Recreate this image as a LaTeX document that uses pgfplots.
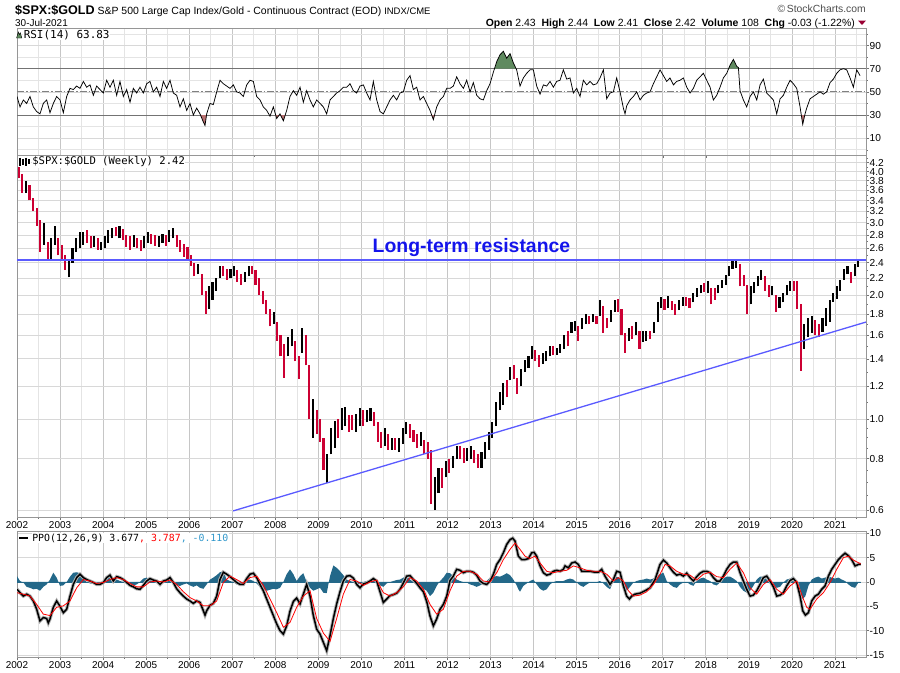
\documentclass[border=0pt]{standalone}
\usepackage{pgfplots}
\pgfplotsset{compat=1.18}
\usepackage{pgfplotstable}
\usepackage{fontspec}
\setmainfont{Liberation Sans}
\newfontfamily\monof{DejaVu Sans Mono}

\definecolor{barred}{RGB}{204,0,51}
\definecolor{gridmaj}{RGB}{198,198,198}
\definecolor{gridmin}{RGB}{228,228,228}
\definecolor{gridh}{RGB}{216,216,216}
\definecolor{axisgray}{RGB}{150,150,150}
\definecolor{rsigreen}{RGB}{95,138,95}
\definecolor{rsired}{RGB}{184,112,112}
\definecolor{histcol}{RGB}{35,104,137}
\definecolor{resblue}{RGB}{90,90,255}
\definecolor{txtblue}{RGB}{20,20,235}
\definecolor{lblblue}{RGB}{51,153,204}
\definecolor{chgred}{RGB}{153,0,51}

% ---------------- weekly-price bars, sampled monthly: x low high colour(1=down) ----------
\pgfplotstableread{
x lo hi c
2002.04 3.85 4.12 1
2002.12 3.55 3.95 1
2002.21 3.55 3.80 0
2002.29 3.40 3.70 1
2002.38 3.20 3.45 1
2002.46 2.95 3.25 1
2002.54 2.55 3.05 1
2002.62 2.65 3.00 0
2002.71 2.45 2.70 1
2002.79 2.45 2.75 0
2002.88 2.65 2.95 0
2002.96 2.50 2.75 1
2003.04 2.42 2.65 1
2003.12 2.30 2.50 1
2003.21 2.21 2.45 0
2003.29 2.40 2.60 0
2003.38 2.55 2.75 0
2003.46 2.60 2.85 0
2003.54 2.65 2.85 0
2003.62 2.68 2.88 1
2003.71 2.60 2.78 1
2003.79 2.62 2.78 0
2003.88 2.58 2.75 1
2003.96 2.58 2.70 0
2004.04 2.60 2.78 0
2004.12 2.68 2.88 0
2004.21 2.75 2.92 0
2004.29 2.78 2.93 1
2004.38 2.75 2.95 0
2004.46 2.72 2.90 1
2004.54 2.62 2.80 1
2004.62 2.58 2.78 1
2004.71 2.62 2.80 0
2004.79 2.60 2.76 1
2004.88 2.56 2.72 1
2004.96 2.60 2.78 0
2005.04 2.68 2.85 0
2005.12 2.66 2.82 1
2005.21 2.64 2.80 1
2005.29 2.62 2.78 0
2005.38 2.68 2.82 0
2005.46 2.64 2.80 1
2005.54 2.70 2.88 0
2005.62 2.75 2.92 0
2005.71 2.62 2.80 1
2005.79 2.55 2.72 1
2005.88 2.48 2.66 1
2005.96 2.44 2.62 1
2006.04 2.36 2.50 1
2006.12 2.22 2.40 1
2006.21 2.25 2.38 0
2006.29 2.00 2.25 1
2006.38 1.80 2.05 1
2006.46 1.85 2.10 0
2006.54 1.95 2.15 0
2006.62 2.05 2.20 0
2006.71 2.20 2.35 0
2006.79 2.22 2.35 1
2006.88 2.18 2.32 1
2006.96 2.20 2.32 0
2007.04 2.22 2.36 0
2007.12 2.15 2.30 1
2007.21 2.12 2.25 1
2007.29 2.15 2.28 0
2007.38 2.22 2.35 0
2007.46 2.25 2.36 1
2007.54 2.12 2.30 1
2007.62 2.00 2.20 1
2007.71 1.90 2.05 1
2007.79 1.80 1.95 1
2007.88 1.68 1.85 1
2007.96 1.70 1.82 0
2008.04 1.55 1.72 1
2008.12 1.42 1.60 1
2008.21 1.26 1.52 1
2008.29 1.42 1.58 0
2008.38 1.50 1.65 0
2008.46 1.38 1.55 1
2008.54 1.25 1.42 1
2008.62 1.45 1.66 0
2008.71 1.35 1.60 1
2008.79 1.00 1.35 1
2008.88 0.90 1.12 0
2008.96 0.92 1.05 1
2009.04 0.88 1.00 1
2009.12 0.75 0.90 1
2009.21 0.70 0.82 0
2009.29 0.82 0.95 0
2009.38 0.85 0.99 0
2009.46 0.90 1.00 1
2009.54 0.94 1.06 0
2009.62 0.96 1.07 0
2009.71 0.93 1.02 1
2009.79 0.94 1.02 1
2009.88 0.93 1.03 0
2009.96 0.96 1.06 0
2010.04 0.96 1.05 1
2010.12 0.98 1.05 0
2010.21 0.99 1.06 0
2010.29 0.96 1.04 1
2010.38 0.88 0.98 1
2010.46 0.85 0.93 1
2010.54 0.86 0.95 0
2010.62 0.84 0.92 1
2010.71 0.84 0.90 0
2010.79 0.84 0.90 1
2010.88 0.83 0.90 0
2010.96 0.87 0.95 0
2011.04 0.92 0.98 0
2011.12 0.90 0.97 1
2011.21 0.88 0.94 1
2011.29 0.85 0.92 1
2011.38 0.86 0.93 0
2011.46 0.82 0.89 1
2011.54 0.80 0.88 1
2011.62 0.62 0.84 1
2011.71 0.60 0.72 0
2011.79 0.66 0.76 0
2011.88 0.68 0.76 1
2011.96 0.72 0.79 0
2012.04 0.74 0.80 1
2012.12 0.76 0.81 0
2012.21 0.80 0.86 0
2012.29 0.80 0.86 1
2012.38 0.78 0.85 1
2012.46 0.79 0.85 0
2012.54 0.80 0.86 0
2012.62 0.78 0.84 1
2012.71 0.76 0.82 1
2012.79 0.76 0.83 0
2012.88 0.80 0.88 0
2012.96 0.84 0.93 0
2013.04 0.90 0.98 0
2013.12 0.96 1.10 0
2013.21 1.05 1.16 0
2013.29 1.08 1.22 0
2013.38 1.13 1.24 1
2013.46 1.24 1.34 0
2013.54 1.25 1.35 1
2013.62 1.15 1.26 1
2013.71 1.20 1.32 0
2013.79 1.30 1.39 0
2013.88 1.33 1.42 0
2013.96 1.40 1.50 0
2014.04 1.38 1.47 1
2014.12 1.34 1.43 1
2014.21 1.36 1.45 0
2014.29 1.38 1.46 0
2014.38 1.42 1.50 0
2014.46 1.43 1.50 1
2014.54 1.43 1.49 0
2014.62 1.45 1.52 0
2014.71 1.48 1.60 0
2014.79 1.50 1.64 1
2014.88 1.62 1.72 0
2014.96 1.64 1.73 0
2015.04 1.55 1.68 1
2015.12 1.65 1.76 0
2015.21 1.70 1.80 0
2015.29 1.70 1.78 1
2015.38 1.72 1.80 0
2015.46 1.70 1.78 1
2015.54 1.78 1.95 0
2015.62 1.62 1.88 1
2015.71 1.66 1.76 1
2015.79 1.72 1.84 0
2015.88 1.82 1.95 0
2015.96 1.82 1.96 1
2016.04 1.60 1.85 1
2016.12 1.45 1.62 1
2016.21 1.55 1.66 0
2016.29 1.56 1.68 1
2016.38 1.60 1.72 0
2016.46 1.48 1.64 1
2016.54 1.54 1.64 0
2016.62 1.55 1.64 0
2016.71 1.56 1.64 1
2016.79 1.62 1.72 0
2016.88 1.72 1.92 0
2016.96 1.86 1.98 0
2017.04 1.84 1.96 1
2017.12 1.86 1.99 0
2017.21 1.84 1.94 1
2017.29 1.79 1.90 1
2017.38 1.84 1.95 0
2017.46 1.88 1.98 0
2017.54 1.88 1.98 1
2017.62 1.86 1.97 1
2017.71 1.92 2.02 0
2017.79 1.98 2.08 0
2017.88 2.02 2.12 0
2017.96 2.04 2.14 1
2018.04 2.02 2.16 0
2018.12 1.90 2.08 1
2018.21 1.95 2.08 1
2018.29 2.02 2.12 0
2018.38 2.08 2.18 0
2018.46 2.12 2.24 0
2018.54 2.22 2.36 0
2018.62 2.32 2.44 0
2018.71 2.33 2.45 0
2018.79 2.10 2.38 1
2018.88 2.10 2.24 1
2018.96 1.80 2.12 1
2019.04 1.90 2.10 0
2019.12 2.02 2.15 0
2019.21 2.10 2.22 0
2019.29 2.18 2.30 0
2019.38 2.05 2.22 1
2019.46 1.98 2.12 1
2019.54 2.00 2.10 0
2019.62 1.82 2.00 1
2019.71 1.86 1.98 0
2019.79 1.92 2.02 0
2019.88 2.00 2.12 0
2019.96 2.05 2.16 0
2020.04 2.05 2.16 1
2020.12 1.85 2.17 1
2020.21 1.31 1.90 1
2020.29 1.48 1.70 0
2020.38 1.58 1.76 0
2020.46 1.62 1.78 0
2020.54 1.60 1.74 1
2020.62 1.58 1.70 1
2020.71 1.63 1.76 0
2020.79 1.68 1.86 0
2020.88 1.72 1.95 0
2020.96 1.93 2.02 0
2021.04 1.96 2.10 0
2021.12 2.05 2.18 0
2021.21 2.18 2.32 0
2021.29 2.25 2.36 0
2021.38 2.14 2.28 1
2021.46 2.22 2.38 0
2021.54 2.34 2.45 0
}\price

% ---------------- RSI(14) ----------------
\pgfplotstableread{
x r
2002.000 46
2002.070 37
2002.147 43
2002.224 40
2002.302 46
2002.379 37
2002.457 33
2002.534 31
2002.611 40
2002.689 43
2002.766 32
2002.844 40
2002.921 46
2002.999 43
2003.076 32
2003.154 46
2003.231 53
2003.308 52
2003.386 55
2003.463 53
2003.541 59
2003.618 54
2003.696 56
2003.773 47
2003.850 55
2003.928 52
2004.005 49
2004.083 60
2004.160 54
2004.238 60
2004.315 47
2004.392 59
2004.470 46
2004.547 52
2004.625 41
2004.702 53
2004.780 49
2004.857 54
2004.934 49
2005.012 57
2005.089 59
2005.167 50
2005.244 54
2005.322 46
2005.399 59
2005.476 53
2005.554 60
2005.631 49
2005.709 47
2005.786 37
2005.864 44
2005.941 34
2006.018 40
2006.096 30
2006.173 36
2006.251 31
2006.328 24
2006.367 21
2006.406 31
2006.483 40
2006.560 39
2006.638 50
2006.715 60
2006.793 57
2006.870 55
2006.948 53
2007.025 56
2007.102 50
2007.180 49
2007.257 46
2007.335 56
2007.412 60
2007.490 59
2007.567 46
2007.644 43
2007.722 37
2007.799 34
2007.877 29
2007.954 37
2008.032 27
2008.109 31
2008.187 25
2008.264 34
2008.341 46
2008.419 51
2008.496 47
2008.574 54
2008.651 41
2008.728 51
2008.806 43
2008.883 37
2008.961 43
2009.038 40
2009.116 37
2009.193 31
2009.271 43
2009.348 46
2009.425 49
2009.503 51
2009.580 54
2009.658 54
2009.735 57
2009.813 51
2009.890 49
2009.967 55
2010.045 56
2010.122 49
2010.200 43
2010.277 59
2010.355 43
2010.432 33
2010.509 31
2010.587 37
2010.664 43
2010.742 47
2010.819 43
2010.897 49
2010.974 50
2011.051 60
2011.129 64
2011.206 52
2011.284 54
2011.361 43
2011.439 46
2011.516 40
2011.593 34
2011.671 26
2011.748 37
2011.826 43
2011.903 46
2011.981 53
2012.058 53
2012.135 55
2012.213 63
2012.290 57
2012.368 53
2012.445 60
2012.523 50
2012.600 58
2012.677 47
2012.755 44
2012.832 43
2012.910 51
2012.987 57
2013.065 67
2013.142 76
2013.219 82
2013.297 85
2013.374 79
2013.452 83
2013.529 75
2013.606 69
2013.684 55
2013.761 62
2013.839 66
2013.916 69
2013.994 69
2014.071 55
2014.149 48
2014.226 56
2014.303 55
2014.381 59
2014.458 54
2014.536 59
2014.613 60
2014.690 69
2014.768 61
2014.845 62
2014.923 49
2015.000 53
2015.078 46
2015.155 60
2015.233 56
2015.310 59
2015.387 56
2015.465 57
2015.542 62
2015.620 69
2015.697 44
2015.775 49
2015.852 50
2015.929 62
2016.007 50
2016.084 36
2016.123 31
2016.162 38
2016.239 43
2016.317 46
2016.394 50
2016.472 43
2016.549 47
2016.626 49
2016.704 50
2016.781 57
2016.859 63
2016.936 69
2017.014 64
2017.091 59
2017.168 62
2017.246 56
2017.323 59
2017.401 60
2017.478 62
2017.556 54
2017.633 49
2017.710 53
2017.788 60
2017.865 63
2017.943 66
2018.020 60
2018.098 54
2018.175 43
2018.252 47
2018.330 54
2018.407 62
2018.485 66
2018.562 73
2018.640 78
2018.717 72
2018.756 71
2018.794 51
2018.872 43
2018.949 37
2019.027 46
2019.104 50
2019.182 43
2019.259 56
2019.336 61
2019.414 49
2019.491 46
2019.569 43
2019.646 31
2019.724 44
2019.801 47
2019.878 54
2019.956 60
2020.033 57
2020.111 53
2020.188 37
2020.250 22
2020.304 31
2020.343 36
2020.420 44
2020.498 46
2020.575 48
2020.653 50
2020.730 48
2020.807 50
2020.885 58
2020.962 61
2021.040 66
2021.117 69
2021.195 70
2021.272 69
2021.350 62
2021.427 54
2021.504 69
2021.582 64
}\rsidata

% RSI parts above 70 (overbought) and below 30 (oversold), bounded by the 70 / 30 lines
\pgfplotstableread{
x r
2013.091 70
2013.142 76
2013.219 82
2013.297 85
2013.374 79
2013.452 83
2013.529 75
2013.593 70
}\rsiobA
\pgfplotstableread{
x r
2018.529 70
2018.562 73
2018.640 78
2018.717 72
2018.756 71
2018.758 70
}\rsiobB
\pgfplotstableread{
x r
2006.262 30
2006.328 24
2006.367 21
2006.402 30
}\rsiosA
\pgfplotstableread{
x r
2007.861 30
2007.877 29
2007.887 30
}\rsiosB
\pgfplotstableread{
x r
2008.009 30
2008.032 27
2008.090 30
}\rsiosC
\pgfplotstableread{
x r
2008.122 30
2008.187 25
2008.230 30
}\rsiosD
\pgfplotstableread{
x r
2011.632 30
2011.671 26
2011.699 30
}\rsiosE
\pgfplotstableread{
x r
2020.217 30
2020.250 22
2020.298 30
}\rsiosF

% ---------------- PPO line ----------------
\pgfplotstableread{
x p
2002.000 -1.5
2002.070 -2.2
2002.147 -2.9
2002.224 -2.5
2002.302 -2.9
2002.379 -3.9
2002.457 -5.6
2002.534 -8.0
2002.611 -7.3
2002.689 -7.5
2002.727 -8.4
2002.766 -7.6
2002.844 -5.2
2002.921 -3.9
2002.999 -5.0
2003.076 -6.3
2003.154 -5.6
2003.231 -2.9
2003.308 -0.5
2003.386 0.9
2003.463 1.6
2003.541 0.9
2003.618 0.5
2003.696 0.2
2003.773 -0.1
2003.850 -0.5
2003.928 -0.5
2004.005 -0.1
2004.083 0.9
2004.160 1.4
2004.238 0.2
2004.315 1.1
2004.392 0.9
2004.470 0.5
2004.547 -0.1
2004.625 -0.7
2004.702 -1.0
2004.780 -1.4
2004.857 -1.5
2004.934 -0.7
2005.012 0.2
2005.089 0.7
2005.167 0.4
2005.244 0.2
2005.322 -0.5
2005.399 0.2
2005.476 0.4
2005.554 0.9
2005.631 -0.1
2005.709 -1.4
2005.786 -2.2
2005.864 -2.9
2005.941 -3.5
2006.018 -3.9
2006.096 -4.4
2006.173 -3.9
2006.251 -4.2
2006.328 -5.9
2006.367 -6.8
2006.406 -5.9
2006.483 -4.8
2006.560 -4.4
2006.638 -2.9
2006.715 0.5
2006.793 2.0
2006.870 1.6
2006.948 1.1
2007.025 0.5
2007.102 -0.1
2007.180 -0.5
2007.257 -0.5
2007.335 0.7
2007.412 1.6
2007.490 1.8
2007.567 0.9
2007.644 -0.5
2007.722 -1.8
2007.799 -3.5
2007.877 -5.2
2007.954 -6.9
2008.032 -8.6
2008.109 -10.0
2008.187 -10.7
2008.264 -9.0
2008.341 -6.0
2008.419 -4.0
2008.496 -3.3
2008.574 -4.5
2008.651 -2.5
2008.728 -0.5
2008.806 -2.9
2008.883 -6.9
2008.961 -9.7
2009.038 -10.7
2009.116 -12.4
2009.193 -14.1
2009.271 -11.0
2009.348 -7.5
2009.425 -4.5
2009.503 -2.0
2009.580 0.2
2009.658 1.2
2009.735 1.3
2009.813 0.8
2009.890 -0.5
2009.967 -1.2
2010.045 -0.4
2010.122 -0.2
2010.200 0.2
2010.277 0.7
2010.355 0.2
2010.432 -2.0
2010.509 -4.2
2010.587 -3.5
2010.664 -2.8
2010.742 -2.6
2010.819 -2.3
2010.897 -1.5
2010.974 -0.2
2011.051 1.2
2011.129 1.3
2011.206 0.5
2011.284 -0.3
2011.361 -1.2
2011.439 -2.0
2011.516 -4.0
2011.593 -7.0
2011.671 -9.0
2011.748 -7.6
2011.826 -5.6
2011.903 -4.6
2011.981 -2.9
2012.058 0.3
2012.135 1.2
2012.213 2.6
2012.290 2.4
2012.368 1.9
2012.445 2.2
2012.523 2.2
2012.600 2.0
2012.677 1.4
2012.755 0.2
2012.832 -0.3
2012.910 -0.5
2012.987 0.2
2013.065 1.6
2013.142 3.6
2013.219 4.6
2013.297 6.0
2013.374 7.7
2013.452 8.7
2013.514 9.0
2013.568 8.4
2013.645 5.3
2013.723 4.6
2013.800 4.6
2013.878 4.8
2013.955 6.0
2014.009 6.1
2014.071 5.3
2014.149 3.3
2014.226 1.9
2014.303 1.4
2014.381 1.6
2014.458 2.2
2014.536 2.4
2014.613 2.2
2014.690 2.6
2014.729 3.3
2014.807 2.9
2014.884 3.9
2014.962 4.1
2015.039 3.6
2015.116 2.2
2015.194 2.2
2015.310 2.2
2015.426 2.0
2015.504 2.0
2015.581 2.6
2015.658 1.2
2015.775 -0.5
2015.852 0.5
2015.929 2.2
2016.007 2.0
2016.084 -0.8
2016.162 -2.9
2016.224 -3.5
2016.278 -2.9
2016.355 -2.5
2016.472 -2.3
2016.588 -1.8
2016.704 -1.2
2016.820 0.5
2016.936 3.6
2017.014 4.5
2017.091 3.9
2017.168 2.9
2017.246 2.0
2017.323 1.4
2017.401 1.6
2017.478 1.2
2017.556 1.8
2017.633 0.9
2017.710 0.2
2017.788 1.1
2017.865 1.8
2017.943 2.2
2018.020 2.2
2018.098 1.9
2018.175 0.9
2018.252 0.2
2018.330 0.2
2018.407 1.2
2018.485 2.6
2018.562 3.6
2018.640 4.1
2018.717 4.1
2018.794 1.9
2018.872 0.2
2018.949 -1.5
2019.027 -2.9
2019.104 -2.7
2019.182 -1.8
2019.259 -0.5
2019.336 0.9
2019.414 1.2
2019.491 0.2
2019.569 -1.0
2019.646 -2.9
2019.724 -2.7
2019.801 -2.2
2019.878 -0.8
2019.956 0.3
2020.033 0.7
2020.111 -0.1
2020.188 -2.9
2020.250 -5.9
2020.312 -6.8
2020.382 -6.3
2020.459 -3.9
2020.537 -2.9
2020.614 -2.5
2020.691 -1.5
2020.769 -0.8
2020.846 1.2
2020.924 2.6
2021.001 3.6
2021.079 4.6
2021.156 5.3
2021.233 5.9
2021.311 5.4
2021.388 4.6
2021.466 3.3
2021.543 3.6
2021.597 3.7
}\ppodata

% ---------------- PPO signal ----------------
\pgfplotstableread{
x s
2002.000 -2.2
2002.147 -2.5
2002.302 -2.9
2002.457 -4.6
2002.611 -6.6
2002.766 -6.9
2002.921 -5.2
2003.076 -4.9
2003.231 -3.9
2003.386 -1.2
2003.541 0.5
2003.696 0.2
2003.850 -0.3
2004.005 -0.1
2004.160 0.5
2004.315 0.9
2004.470 0.5
2004.625 -0.3
2004.780 -1.0
2004.934 -1.0
2005.089 0.0
2005.244 0.2
2005.399 0.0
2005.554 0.4
2005.709 -0.5
2005.864 -2.0
2006.018 -3.2
2006.173 -3.9
2006.328 -4.9
2006.483 -4.9
2006.638 -3.9
2006.793 -0.1
2006.948 1.2
2007.102 0.5
2007.257 -0.3
2007.412 0.9
2007.567 1.2
2007.722 -0.7
2007.877 -3.5
2008.032 -6.3
2008.187 -9.3
2008.341 -8.3
2008.496 -5.2
2008.651 -2.9
2008.806 -1.8
2008.961 -7.5
2009.116 -10.5
2009.271 -12.2
2009.425 -7.5
2009.580 -2.5
2009.735 0.5
2009.890 0.2
2010.045 -0.7
2010.200 0.0
2010.355 0.4
2010.509 -2.2
2010.664 -2.9
2010.819 -2.2
2010.974 -1.0
2011.129 0.9
2011.284 0.2
2011.439 -1.5
2011.593 -4.6
2011.748 -6.6
2011.903 -5.6
2012.058 -1.8
2012.213 1.2
2012.368 2.2
2012.523 2.2
2012.677 1.6
2012.832 0.2
2012.987 0.0
2013.142 1.9
2013.297 4.6
2013.452 6.7
2013.568 8.0
2013.684 6.7
2013.800 5.3
2013.916 4.8
2014.032 5.3
2014.149 3.9
2014.303 2.2
2014.458 1.9
2014.613 2.2
2014.768 2.4
2014.923 3.3
2015.078 2.9
2015.233 2.4
2015.387 2.2
2015.542 2.2
2015.697 1.6
2015.852 0.2
2015.968 0.9
2016.084 0.2
2016.201 -1.8
2016.317 -2.9
2016.472 -2.7
2016.626 -2.0
2016.781 -0.5
2016.936 1.6
2017.052 3.6
2017.168 3.3
2017.323 2.2
2017.478 1.6
2017.633 1.4
2017.788 0.4
2017.943 1.6
2018.098 2.0
2018.252 1.1
2018.407 0.9
2018.562 2.6
2018.717 3.9
2018.872 1.9
2019.027 -1.2
2019.182 -2.5
2019.336 -0.5
2019.491 0.5
2019.646 -1.5
2019.801 -2.5
2019.956 -0.8
2020.111 0.2
2020.265 -3.5
2020.343 -5.2
2020.420 -5.6
2020.575 -3.5
2020.730 -2.2
2020.885 -0.1
2021.040 2.6
2021.195 5.0
2021.311 5.3
2021.427 4.5
2021.597 3.7
}\sigdata

% ---------------- PPO histogram ----------------
\pgfplotstableread{
x h
2002.000 1.2
2002.070 0.2
2002.147 -0.1
2002.224 -1.0
2002.302 -1.2
2002.379 -1.5
2002.457 -1.4
2002.534 -1.8
2002.611 -1.0
2002.689 -0.5
2002.766 0.5
2002.844 1.9
2002.921 0.9
2002.999 -0.8
2003.076 -0.7
2003.154 0.0
2003.231 1.1
2003.308 1.9
2003.386 2.0
2003.463 1.8
2003.541 0.7
2003.618 0.0
2003.696 -0.3
2003.773 -0.4
2003.850 -0.5
2003.928 0.0
2004.005 0.1
2004.083 1.2
2004.160 1.6
2004.238 0.2
2004.315 0.5
2004.392 0.2
2004.470 0.0
2004.547 -0.3
2004.625 -0.5
2004.702 -0.7
2004.780 -0.5
2004.857 0.0
2004.934 0.7
2005.012 0.9
2005.089 0.5
2005.167 0.2
2005.244 0.0
2005.322 0.0
2005.399 0.3
2005.476 0.5
2005.554 0.2
2005.631 -0.3
2005.709 -0.7
2005.786 -0.8
2005.864 -0.5
2005.941 -0.3
2006.018 -0.7
2006.096 -1.0
2006.173 -0.7
2006.251 -1.2
2006.328 -1.4
2006.406 -0.5
2006.483 0.5
2006.560 0.9
2006.638 1.4
2006.715 2.0
2006.793 2.2
2006.870 0.5
2006.948 0.2
2007.025 0.0
2007.102 -0.5
2007.180 -0.3
2007.257 0.0
2007.335 0.4
2007.412 0.5
2007.490 0.2
2007.567 -0.3
2007.644 -1.0
2007.722 -1.5
2007.799 -1.8
2007.877 -1.6
2007.954 -1.4
2008.032 -1.5
2008.109 -1.2
2008.187 0.0
2008.264 1.6
2008.341 2.6
2008.419 1.6
2008.496 0.2
2008.574 1.2
2008.651 1.8
2008.728 0.0
2008.806 -1.2
2008.883 -1.8
2008.961 -1.5
2009.038 -1.2
2009.116 -2.2
2009.193 -2.3
2009.271 1.2
2009.348 3.4
2009.425 2.9
2009.503 2.2
2009.580 1.4
2009.658 0.5
2009.735 0.2
2009.813 0.0
2009.890 -0.5
2009.967 -0.3
2010.045 0.0
2010.122 0.2
2010.200 0.4
2010.277 0.5
2010.355 0.2
2010.432 -0.7
2010.509 -1.0
2010.587 -0.3
2010.664 0.0
2010.742 0.2
2010.819 0.4
2010.897 0.5
2010.974 0.9
2011.051 1.2
2011.129 0.5
2011.206 0.0
2011.284 -0.7
2011.361 -1.0
2011.439 -1.4
2011.516 -1.8
2011.593 -2.9
2011.671 -2.2
2011.748 -0.8
2011.826 0.2
2011.903 0.9
2011.981 1.9
2012.058 1.8
2012.135 1.2
2012.213 0.5
2012.290 0.2
2012.368 0.0
2012.445 -0.1
2012.523 -0.5
2012.600 -0.7
2012.677 -1.0
2012.755 -0.7
2012.832 -0.3
2012.910 0.2
2012.987 0.9
2013.065 1.1
2013.142 1.2
2013.219 1.1
2013.297 1.4
2013.374 1.8
2013.452 1.4
2013.529 0.5
2013.606 -0.7
2013.645 -1.5
2013.684 -2.0
2013.761 -0.8
2013.839 -0.3
2013.916 0.2
2013.994 0.5
2014.071 -0.5
2014.149 -1.4
2014.226 -1.8
2014.303 -1.5
2014.381 -0.5
2014.458 0.0
2014.536 0.2
2014.613 0.2
2014.690 0.2
2014.768 0.5
2014.845 0.7
2014.923 0.5
2015.000 -0.1
2015.078 -0.7
2015.155 -1.0
2015.233 -0.5
2015.310 -0.1
2015.387 -0.1
2015.465 0.0
2015.542 0.2
2015.620 -0.3
2015.697 -1.0
2015.775 -1.5
2015.852 0.2
2015.929 1.1
2016.007 0.7
2016.084 -0.3
2016.162 -1.8
2016.239 -1.0
2016.317 -0.1
2016.394 0.2
2016.472 0.4
2016.549 0.5
2016.626 0.7
2016.704 0.5
2016.781 0.7
2016.859 1.1
2016.936 1.6
2017.014 1.9
2017.091 0.2
2017.168 -0.5
2017.246 -1.0
2017.323 -1.2
2017.401 -0.5
2017.478 -0.1
2017.556 0.0
2017.633 -0.5
2017.710 -0.8
2017.788 0.2
2017.865 0.7
2017.943 0.9
2018.020 0.5
2018.098 0.2
2018.175 -0.5
2018.252 -0.7
2018.330 -0.1
2018.407 0.7
2018.485 1.1
2018.562 1.1
2018.640 0.7
2018.717 0.2
2018.794 -1.0
2018.872 -1.8
2018.949 -2.2
2019.027 -1.8
2019.104 -0.8
2019.182 0.5
2019.259 1.1
2019.336 1.1
2019.414 0.5
2019.491 -0.3
2019.569 -0.7
2019.646 -1.2
2019.724 -1.0
2019.801 -0.1
2019.878 0.5
2019.956 0.7
2020.033 1.1
2020.111 -0.5
2020.188 -2.5
2020.250 -3.5
2020.312 -2.9
2020.382 -0.8
2020.459 0.5
2020.537 0.9
2020.614 1.1
2020.691 0.7
2020.769 0.9
2020.846 1.1
2020.924 0.9
2021.001 0.7
2021.079 0.9
2021.156 0.5
2021.233 0.2
2021.311 -0.5
2021.388 -1.0
2021.466 -1.2
2021.543 -0.1
2021.597 0.0
}\histdata

\pgfplotsset{
  panel/.style={
    scale only axis, width=849bp,
    xmin=2002, xmax=2021.72,
    axis line style={draw=axisgray, line width=0.6bp},
    xtick={2002,2003,...,2021},
    minor xtick={2002.5,2003.5,...,2021.5},
    xmajorgrids, xminorgrids, ymajorgrids,
    major x grid style={draw=gridmaj, line width=0.7bp},
    minor x grid style={draw=gridmin, line width=0.6bp},
    major y grid style={draw=gridh, line width=0.6bp},
    minor y grid style={draw=gridmin, line width=0.6bp},
    xtick pos=bottom, ytick pos=right,
    yticklabel pos=right,
    tick align=outside,
    major tick length=3bp, minor tick length=1.5bp,
    tick style={draw=black!55, line width=0.5bp},
    /pgf/number format/assume math mode=true,
    /pgf/number format/1000 sep={},
    x tick label style={font=\fontsize{10}{12}\selectfont, inner sep=1bp},
    y tick label style={font=\fontsize{10.2}{12}\selectfont, inner sep=0.4bp, text height=7.3bp, text depth=0bp},
  }
}

\begin{document}
\begin{tikzpicture}
\useasboundingbox (0,0) rectangle (900bp,-673bp);
\pgfplotstablegetrowsof{\price}
\pgfmathtruncatemacro{\nlast}{\pgfplotsretval-1}

% ======================= RSI panel =======================
\begin{axis}[panel, at={(17bp,-155bp)}, anchor=south west, height=127bp,
  ymin=-4.5, ymax=105.1,
  ytick={10,30,50,70,90}, minor ytick={0,20,40,60,80,100}, yminorgrids,
  xticklabels={}]
  \addplot[black!55, line width=0.8bp, forget plot] coordinates {(2002,70) (2021.72,70)};
  \addplot[black!55, line width=0.8bp, forget plot] coordinates {(2002,30) (2021.72,30)};
  \addplot[black!50, line width=0.7bp, dash pattern=on 7bp off 2bp on 1.5bp off 2bp, forget plot] coordinates {(2002,50) (2021.72,50)};
  \addplot[fill=rsigreen, draw=none, forget plot] table[x=x,y=r]{\rsiobA};
  \addplot[fill=rsigreen, draw=none, forget plot] table[x=x,y=r]{\rsiobB};
  \addplot[fill=rsired, draw=none, forget plot] table[x=x,y=r]{\rsiosA};
  \addplot[fill=rsired, draw=none, forget plot] table[x=x,y=r]{\rsiosB};
  \addplot[fill=rsired, draw=none, forget plot] table[x=x,y=r]{\rsiosC};
  \addplot[fill=rsired, draw=none, forget plot] table[x=x,y=r]{\rsiosD};
  \addplot[fill=rsired, draw=none, forget plot] table[x=x,y=r]{\rsiosE};
  \addplot[fill=rsired, draw=none, forget plot] table[x=x,y=r]{\rsiosF};
  \addplot[black, line width=0.75bp, forget plot] table[x=x,y=r]{\rsidata};
\end{axis}

% ======================= Price panel =======================
\begin{axis}[panel, at={(17bp,-517bp)}, anchor=south west, height=362bp,
  ymode=log, ymin=0.577, ymax=4.385,
  ytick={0.6,0.8,1.0,1.2,1.4,1.6,1.8,2.0,2.2,2.4,2.6,2.8,3.0,3.2,3.4,3.6,3.8,4.0,4.2},
  yticklabels={0.6,0.8,1.0,1.2,1.4,1.6,1.8,2.0,2.2,2.4,2.6,2.8,3.0,3.2,3.4,3.6,3.8,4.0,4.2},
  minor ytick={0.65,0.7,0.75,0.85,0.9,0.95,1.1,1.3,1.5,1.7,1.9,2.1,2.3,2.5,2.7,2.9,3.1,3.3,3.5,3.7,3.9,4.1,4.3}]
  \pgfplotsforeachungrouped \bidx in {0,...,\nlast}{%
    \pgfplotstablegetelem{\bidx}{x}\of\price\let\bx\pgfplotsretval
    \pgfplotstablegetelem{\bidx}{lo}\of\price\let\blo\pgfplotsretval
    \pgfplotstablegetelem{\bidx}{hi}\of\price\let\bhi\pgfplotsretval
    \pgfplotstablegetelem{\bidx}{c}\of\price
    \ifnum\pgfplotsretval=1\relax\def\bcol{barred}\else\def\bcol{black}\fi
    \edef\temp{\noexpand\addplot[draw=\bcol, line width=2.1bp, forget plot] coordinates {(\bx,\blo) (\bx,\bhi)};}%
    \temp
  }
  \addplot[draw=resblue, line width=2bp, forget plot] coordinates {(2002,2.435) (2021.72,2.435)};
  \addplot[draw=resblue, line width=1.3bp, forget plot] coordinates {(2007.02,0.597) (2021.72,1.72)};
\end{axis}

% ======================= PPO panel =======================
\begin{axis}[panel, at={(17bp,-657bp)}, anchor=south west, height=126bp,
  ymin=-15.41, ymax=10.47,
  ytick={-15,-10,-5,0,5,10}]
  \addplot[fill=histcol, draw=none, forget plot] table[x=x,y=h]{\histdata} \closedcycle;
  \addplot[histcol, line width=0.8bp, forget plot] coordinates {(2002,0) (2021.6,0)};
  \addplot[black!30, line width=3.4bp, forget plot] table[x=x,y=p]{\ppodata};
  \addplot[black, line width=1.5bp, forget plot] table[x=x,y=p]{\ppodata};
  \addplot[red, line width=0.8bp, forget plot] table[x=x,y=s]{\sigdata};
\end{axis}

% ======================= header texts =======================
\node[anchor=base west, inner sep=0pt] at (15bp,-14.5bp)
  {{\fontsize{12.6}{14}\selectfont\bfseries \$SPX:\$GOLD}\fontsize{10.5}{12}\selectfont\ S\&P 500 Large Cap Index/Gold - Continuous Contract (EOD) {\fontsize{9.5}{11}\selectfont INDX/CME}};
\node[anchor=base west, inner sep=0pt] at (15bp,-26.5bp) {\fontsize{10}{11}\selectfont 30-Jul-2021};
\node[anchor=base east, inner sep=0pt, text=black!70] at (866bp,-12.5bp) {\fontsize{10.4}{12}\selectfont ©\,StockCharts.com};
\node[anchor=base east, inner sep=0pt] at (855bp,-26bp)
  {\fontsize{10.5}{12}\selectfont\textbf{Open} 2.43\ \ \textbf{High} 2.44\ \ \textbf{Low} 2.41\ \ \textbf{Close} 2.42\ \ \textbf{Volume} 108\ \ \textbf{Chg} -0.03 (-1.22\%)};
\fill[chgred] (858bp,-20.5bp) -- (866bp,-20.5bp) -- (862bp,-25bp) -- cycle;

% ======================= panel labels =======================
\node[anchor=west, inner sep=0.6bp, fill=white] at (23bp,-35bp) {\monof\fontsize{11}{12}\selectfont RSI(14) 63.83};
\filldraw[fill=rsigreen, draw=black, line width=0.4bp] (16.6bp,-38bp) -- (18.3bp,-32bp) -- (19.4bp,-34.7bp) -- (20.3bp,-32.8bp) -- (21.8bp,-38bp) -- cycle;

\node[anchor=west, inner sep=0.6bp, fill=white] at (31.5bp,-162bp) {\monof\fontsize{10.6}{12}\selectfont \$SPX:\$GOLD (Weekly) 2.42};
\fill[white] (18bp,-157bp) rectangle (31bp,-167bp);
\draw[black, line width=1.1bp] (20bp,-157.5bp) -- (20bp,-166bp) (23bp,-158.5bp) -- (23bp,-165bp) (26bp,-157.5bp) -- (26bp,-165.5bp) (29bp,-159bp) -- (29bp,-164bp);

\node[anchor=west, inner sep=0.6bp, fill=white] at (31.5bp,-538.3bp) {\monof\fontsize{9.9}{11}\selectfont PPO(12,26,9) 3.677\textcolor{red}{, 3.787}\textcolor{lblblue}{, -0.110}};
\fill[white] (18bp,-534bp) rectangle (31bp,-543bp);
\draw[black, line width=2.2bp] (19bp,-538.3bp) -- (28bp,-538.3bp);

% ======================= annotation =======================
\node[anchor=base, inner sep=0pt, text=txtblue] at (471.5bp,-252bp) {\fontsize{19.5}{22}\selectfont\bfseries Long-term resistance};
\end{tikzpicture}
\end{document}
